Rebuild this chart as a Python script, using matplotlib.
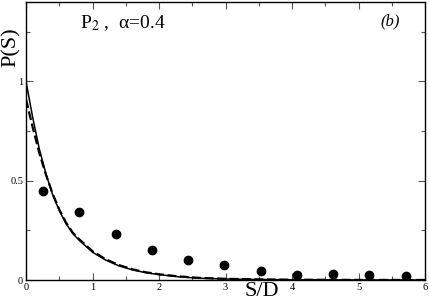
import matplotlib
matplotlib.use("Agg")
import matplotlib.pyplot as plt
from matplotlib.ticker import MultipleLocator

# data
pts_x = [0.26, 0.80, 1.35, 1.89, 2.44, 2.98, 3.53, 4.08, 4.62, 5.16, 5.71]
pts_y = [0.447, 0.34, 0.231, 0.149, 0.102, 0.074, 0.044, 0.027, 0.029, 0.024, 0.022]

curve_x = [0, 0.1, 0.2, 0.3, 0.4, 0.5, 0.6, 0.7, 0.8, 1.0, 1.2, 1.4, 1.6, 1.8, 2.0, 2.3, 2.6, 3.0, 3.5, 4.0, 5.0, 6.0]
solid_y = [1.0, 0.82, 0.66, 0.535, 0.43, 0.35, 0.285, 0.235, 0.2, 0.14, 0.1, 0.071, 0.051, 0.037, 0.027, 0.016, 0.009, 0.005, 0.0025, 0.0012, 0.0003, 0.0001]
dashed_y = [0.91, 0.77, 0.64, 0.53, 0.435, 0.355, 0.29, 0.24, 0.205, 0.145, 0.104, 0.075, 0.054, 0.039, 0.029, 0.018, 0.011, 0.006, 0.003, 0.0015, 0.0004, 0.0001]

xticks = [0, 1, 2, 3, 4, 5, 6]
yticks = [0, 0.5, 1]
yticklabels = ["0", "0.5", "1"]

plt.rcParams['font.family'] = ['Liberation Serif', 'DejaVu Serif']
plt.rcParams['mathtext.fontset'] = 'stix'

fig = plt.figure(figsize=(4.29, 3.02), dpi=100)
ax = fig.add_axes([26/429, 1-280/302, 399/429, 278/302])

ax.plot(curve_x, solid_y, color='black', lw=1.1)
ax.plot(curve_x, dashed_y, color='black', lw=1.6, dashes=(4, 1.6))
ax.plot(pts_x, pts_y, 'o', color='black', ms=6)

ax.set_xlim(0, 6)
ax.set_ylim(0, 1.4)
ax.set_xticks(xticks)
ax.set_xticklabels([str(t) for t in xticks])
ax.set_yticks(yticks)
ax.set_yticklabels(yticklabels)
ax.xaxis.set_minor_locator(MultipleLocator(0.5))
ax.yaxis.set_minor_locator(MultipleLocator(0.25))
ax.tick_params(which='both', direction='in', top=True, right=True, labelsize=7.5, pad=2)
ax.tick_params(which='major', length=5, width=0.8, color='#555555')
ax.tick_params(which='minor', length=3, width=0.8, color='#555555')
for s in ax.spines.values():
    s.set_linewidth(1.0)

fig.text(262/429, 1-291/302, 'S/D', fontsize=16, ha='center', va='center')
fig.text(11/429, 1-47/302, 'P(S)', fontsize=16, rotation=90, ha='center', va='center')
fig.text(80/429, 1-23/302, 'P$_2$ ,  α=0.4', fontsize=14, ha='left', va='center')
fig.text(390/429, 1-21/302, '(b)', fontsize=12, style='italic', ha='center', va='center')

fig.savefig('out.png', dpi=100)
